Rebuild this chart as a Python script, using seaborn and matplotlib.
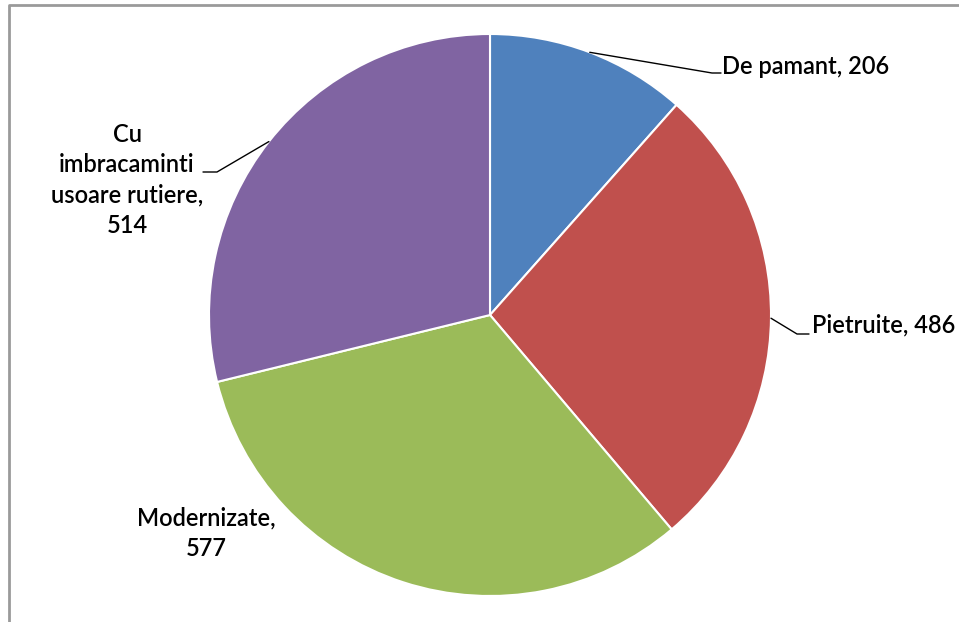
import numpy as np
import matplotlib
matplotlib.use("Agg")
import matplotlib.pyplot as plt
import seaborn as sns

# Road network length by surface type
categories = ["De pamant", "Pietruite", "Modernizate", "Cu\nimbracaminti\nusoare rutiere,"]
values = [206, 486, 577, 514]
colors = ["#4F81BD", "#C0504D", "#9BBB59", "#8064A2"]

sns.set_theme(style="white")
plt.rcParams["font.family"] = ["Lato", "DejaVu Sans"]

W, H = 959, 622
fig = plt.figure(figsize=(W / 100, H / 100), dpi=100)
ax = fig.add_axes([0, 0, 1, 1])

def py(y):
    """Convert a top-down pixel row into the axes' y coordinate."""
    return H - y

cx, cy, r = 490, 315, 281
wedges, _ = ax.pie(values, colors=colors, startangle=90, counterclock=False,
                   center=(cx, py(cy)), radius=r,
                   wedgeprops=dict(edgecolor="white", linewidth=1.5))
ax.set_xlim(0, W)
ax.set_ylim(0, H)
ax.set_aspect("equal")
ax.axis("off")

# mid angle of each wedge, measured clockwise from the top
total = sum(values)
cum = np.cumsum([0] + values)
mid = [(cum[i] + values[i] / 2) / total * 2 * np.pi for i in range(len(values))]

def edge(i):
    return cx + r * np.sin(mid[i]), cy - r * np.cos(mid[i])

txt_kw = dict(fontsize=17, color="black", fontweight="semibold")

# De pamant
ex, ey = edge(0)
ax.plot([ex, 712, 721], [py(ey), py(73), py(73)], color="black", lw=1)
ax.text(722, py(66), f"{categories[0]}, {values[0]}", ha="left", va="center", **txt_kw)

# Pietruite
ex, ey = edge(1)
ax.plot([ex, 797, 809], [py(ey), py(334), py(334)], color="black", lw=1)
ax.text(812, py(325), f"{categories[1]}, {values[1]}", ha="left", va="center", **txt_kw)

# Modernizate
ax.text(206, py(533), f"{categories[2]},\n{values[2]}", ha="center", va="center",
        linespacing=1.4, **txt_kw)

# Cu imbracaminti usoare rutiere
ex, ey = edge(3)
ax.plot([ex, 217, 203], [py(ey), py(172), py(172)], color="black", lw=1)
ax.text(127, py(180), f"{categories[3]}\n{values[3]}", ha="center", va="center",
        linespacing=1.4, **txt_kw)

# chart frame (top and left edges)
ax.plot([9, 9, W + 5], [-5, py(5), py(5)], color="#9a9a9a", lw=2, clip_on=False)

fig.savefig("out.png", dpi=100)
